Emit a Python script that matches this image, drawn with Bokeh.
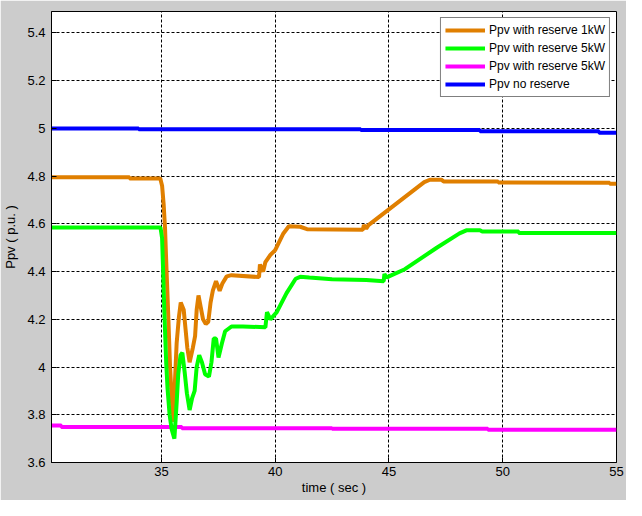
from bokeh.plotting import figure
from bokeh.models import FixedTicker, Range1d, Legend, LegendItem
from bokeh.embed import file_html
from bokeh.resources import INLINE

# ---------------- data ----------------
x_ticks = [35, 40, 45, 50, 55]
y_ticks = [3.6, 3.8, 4.0, 4.2, 4.4, 4.6, 4.8, 5.0, 5.2, 5.4]
y_tick_labels = ["3.6", "3.8", "4", "4.2", "4.4", "4.6", "4.8", "5", "5.2", "5.4"]

series_labels = ["Ppv with reserve 1kW", "Ppv with reserve 5kW",
                 "Ppv with reserve 5kW", "Ppv no reserve"]

t_orange = [30.17, 33.6, 33.6, 34.95, 35.03, 35.1, 35.16, 35.22, 35.3, 35.38, 35.46, 35.53,
            35.6, 35.67, 35.77, 35.85, 35.98, 36.06, 36.14, 36.24, 36.38, 36.48, 36.55,
            36.63, 36.73, 36.83, 36.95, 37.06, 37.16, 37.26, 37.4, 37.56, 37.68, 37.87,
            38.08, 39.29, 39.33, 39.47, 39.57, 39.79, 40.0, 40.36, 40.6, 41.1, 41.4,
            43.85, 43.9, 44.0, 44.1, 46.55, 46.8, 47.3, 47.4, 49.8, 49.8, 54.7, 54.7, 55.0]
p_orange = [4.795, 4.795, 4.79, 4.79, 4.76, 4.68, 4.58, 4.42, 4.22, 4.0, 3.86, 3.77,
            3.95, 4.10, 4.21, 4.27, 4.24, 4.16, 4.08, 4.02, 4.08, 4.13, 4.24,
            4.30, 4.25, 4.20, 4.18, 4.19, 4.27, 4.32, 4.36, 4.32, 4.35, 4.38,
            4.385, 4.377, 4.43, 4.40, 4.44, 4.47, 4.49, 4.56, 4.59, 4.588, 4.578,
            4.575, 4.595, 4.58, 4.595, 4.775, 4.785, 4.785, 4.778, 4.778, 4.773, 4.772, 4.768, 4.768]

t_green = [30.17, 34.96, 35.03, 35.08, 35.13, 35.21, 35.27, 35.36, 35.45, 35.57, 35.67,
           35.74, 35.84, 35.92, 36.02, 36.12, 36.24, 36.35, 36.46, 36.55, 36.66, 36.78,
           36.92, 37.09, 37.2, 37.3, 37.4, 37.51, 37.66, 37.8, 38.08, 38.58, 39.57,
           39.64, 39.79, 40.07, 40.5, 40.9, 41.1, 41.5, 42.5, 44.0, 44.77, 44.8, 44.9,
           45.0, 45.7, 47.1, 48.1, 48.4, 49.0, 49.1, 50.7, 50.7, 55.0]
p_green = [4.585, 4.585, 4.54, 4.39, 4.23, 4.02, 3.91, 3.80, 3.74, 3.70, 3.85,
           3.97, 4.05, 4.06, 3.98, 3.89, 3.82, 3.87, 3.90, 4.00, 4.05, 4.02,
           3.97, 3.96, 4.02, 4.12, 4.12, 4.04, 4.10, 4.15, 4.17, 4.17, 4.167,
           4.23, 4.20, 4.23, 4.31, 4.37, 4.378, 4.375, 4.368, 4.365, 4.36, 4.39, 4.375,
           4.38, 4.41, 4.50, 4.56, 4.573, 4.573, 4.568, 4.568, 4.562, 4.562]

t_magenta = [30.17, 30.6, 30.6, 35.9, 35.9, 42.5, 42.5, 49.35, 49.35, 55.0]
p_magenta = [3.755, 3.755, 3.749, 3.749, 3.744, 3.744, 3.741, 3.741, 3.737, 3.737]

t_blue = [30.17, 34.0, 34.0, 43.76, 43.76, 49.0, 49.0, 54.23, 54.23, 55.0]
p_blue = [5.0, 5.0, 4.997, 4.997, 4.993, 4.993, 4.988, 4.988, 4.982, 4.982]

# ---------------- figure ----------------
FONT = "Liberation Sans"

p = figure(width=626, height=500,
           x_range=Range1d(30.17, 55.0), y_range=Range1d(3.6, 5.49),
           output_backend="svg", toolbar_location=None,
           min_border_left=49, min_border_right=10, min_border_top=11, min_border_bottom=38)

p.border_fill_color = "#cccccc"
p.background_fill_color = "white"
p.outline_line_color = "black"
p.outline_line_width = 1
p.outline_line_alpha = 1

for ax in (p.xaxis[0], p.yaxis[0]):
    ax.major_tick_in = 5
    ax.major_tick_out = 0
    ax.minor_tick_in = 0
    ax.minor_tick_out = 0
    ax.axis_line_color = "black"
    ax.major_tick_line_color = "black"
    ax.major_label_text_font = FONT
    ax.major_label_text_font_size = "13px"
    ax.major_label_text_color = "black"
    ax.axis_label_text_font = FONT
    ax.axis_label_text_font_size = "13px"
    ax.axis_label_text_font_style = "normal"
    ax.axis_label_text_color = "black"

p.xaxis[0].ticker = FixedTicker(ticks=x_ticks)
p.yaxis[0].ticker = FixedTicker(ticks=y_ticks)
p.yaxis[0].major_label_overrides = {v: s for v, s in zip(y_ticks, y_tick_labels)}
p.xaxis[0].axis_label = "time ( sec )"
p.yaxis[0].axis_label = "Ppv ( p.u. )"
p.xaxis[0].major_label_standoff = 4
p.xaxis[0].axis_label_standoff = 1
p.yaxis[0].major_label_standoff = 6
p.yaxis[0].axis_label_standoff = 6

for g in (p.xgrid[0], p.ygrid[0]):
    g.grid_line_color = "black"
    g.grid_line_dash = "3 2"
    g.grid_line_width = 1
    g.grid_line_alpha = 1

# ---------------- lines ----------------
r_mag = p.line(t_magenta, p_magenta, line_color="#ff00ff", line_width=4)
r_blue = p.line(t_blue, p_blue, line_color="#0000ff", line_width=4)
r_orange = p.line(t_orange, p_orange, line_color="#e07f00", line_width=4)
r_green = p.line(t_green, p_green, line_color="#00ff00", line_width=4)

legend = Legend(items=[LegendItem(label=series_labels[0], renderers=[r_orange]),
                       LegendItem(label=series_labels[1], renderers=[r_green]),
                       LegendItem(label=series_labels[2], renderers=[r_mag]),
                       LegendItem(label=series_labels[3], renderers=[r_blue])],
                location="top_right")
legend.margin = 6
legend.padding = 4
legend.spacing = 2
legend.glyph_width = 40
legend.glyph_height = 16
legend.label_height = 16
legend.label_standoff = 4
legend.label_text_font = FONT
legend.label_text_font_size = "12px"
legend.label_text_color = "black"
legend.border_line_color = "black"
legend.border_line_width = 1
legend.background_fill_color = "white"
legend.background_fill_alpha = 1
p.add_layout(legend)

open("out.html", "w").write(file_html(p, INLINE))
